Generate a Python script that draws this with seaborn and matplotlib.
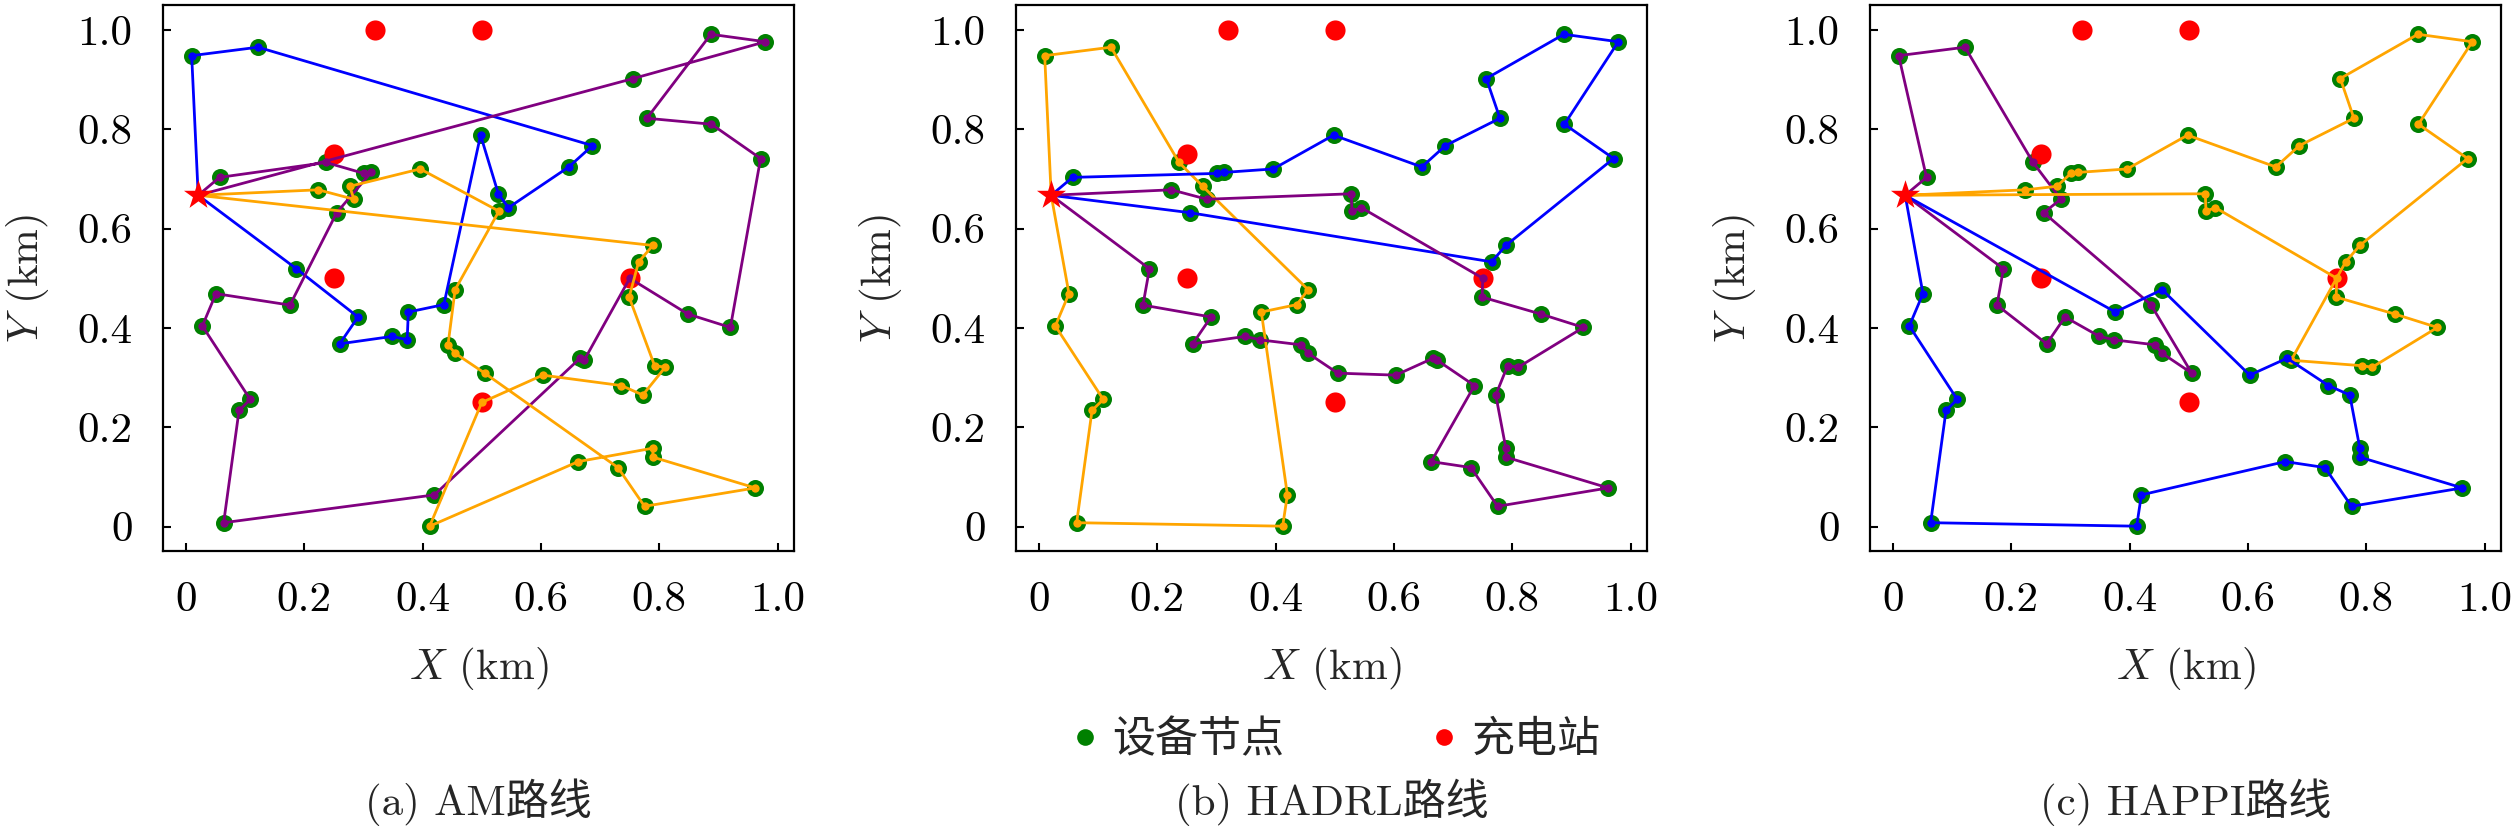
import matplotlib
matplotlib.use('Agg')
import matplotlib.pyplot as plt
import seaborn as sns
from matplotlib.lines import Line2D
from matplotlib.ticker import FuncFormatter

# 设备节点 (km)
node_ids = ['1', '2', '3', '4', '5', '6', '7', '8', '9', '10',
            '11', '12', '13', '14a', '14b', '15', '16', '17', '18', '19',
            '20', '21', '22', '23', '24', '25', '26', '27', '28', '29',
            '30', '31', '32', '33', '34', '35', '36', '37', '38', '39',
            '40', '41', '41b', '42', '43', '44a', '44b', '45', '46', '47',
            '48', '49', '50', '51', '52', '53', '54a', '54b', '55', '56']
node_x = [0.010, 0.122, 0.756, 0.887, 0.979, 0.779, 0.888, 0.971, 0.498, 0.687,
          0.647, 0.237, 0.057, 0.301, 0.313, 0.396, 0.224, 0.277, 0.284, 0.255,
          0.528, 0.545, 0.529, 0.789, 0.765, 0.749, 0.187, 0.051, 0.176, 0.028,
          0.291, 0.260, 0.349, 0.374, 0.376, 0.436, 0.455, 0.443, 0.455, 0.505,
          0.603, 0.673, 0.666, 0.848, 0.920, 0.792, 0.810, 0.736, 0.772, 0.109,
          0.090, 0.064, 0.420, 0.412, 0.663, 0.730, 0.789, 0.789, 0.775, 0.962]
node_y = [0.948, 0.965, 0.902, 0.991, 0.976, 0.822, 0.810, 0.741, 0.788, 0.767,
          0.724, 0.733, 0.703, 0.711, 0.713, 0.720, 0.678, 0.685, 0.659, 0.632,
          0.670, 0.642, 0.635, 0.566, 0.533, 0.462, 0.519, 0.469, 0.446, 0.404,
          0.422, 0.368, 0.383, 0.376, 0.432, 0.447, 0.477, 0.366, 0.349, 0.309,
          0.305, 0.335, 0.339, 0.428, 0.401, 0.324, 0.321, 0.284, 0.265, 0.256,
          0.234, 0.008, 0.064, 0.001, 0.131, 0.119, 0.158, 0.140, 0.041, 0.078]

# 充电站
station_ids = ['S1', 'S2', 'S3', 'S4', 'S5', 'S6']
station_x = [0.32, 0.50, 0.25, 0.25, 0.75, 0.50]
station_y = [1.00, 1.00, 0.75, 0.50, 0.50, 0.25]

# 基站
depot_x, depot_y = 0.021, 0.667

# 路线 (a) AM
am_blue = ['D', '1', '2', '10', '11', '21', '20', '9', '35', '34', '33', '32', '31', '30', '26', 'D']
am_purple = ['D', '13', '12', '14a', '14b', '19', '28', '27', '29', '47', '48', '49', '50', '41b', '41',
             'S5', '42', '43', '8', '7', '6', '4', '5', '3', 'D']
am_orange = ['D', '16', '18', '17', '15', '22', '36', '37', '38', '39', '53', '55', '56', '54b', '54a',
             '52', '51', 'S6', '40', '45', '46', '44b', '44a', '25', '24', '23', 'D']

# 路线 (b) HADRL
hadrl_orange = ['D', '1', '2', '12', '17', '36', '35', '34', '50', '51', '49', '48', '47', '29', '27', 'D']
hadrl_blue = ['D', '13', '14a', '14b', '15', '9', '11', '10', '6', '3', '4', '5', '7', '8', '23', '24', '19', 'D']
hadrl_purple = ['D', '16', '18', '20', '22', '21', 'S5', '25', '42', '43', '44b', '44a', '46', '54a', '54b',
                '56', '55', '53', '52', '45', '41', '41b', '40', '39', '38', '37', '33', '32', '31', '30',
                '28', '26', 'D']

# 路线 (c) HAPPI
happi_purple = ['D', '13', '1', '2', '12', '18', '19', '35', '39', '38', '37', '33', '32', '30', '31', '28', '26', 'D']
happi_orange = ['D', '20', '22', '21', 'S5', '25', '42', '43', '44b', '44a', '41', '24', '23', '8', '7', '5',
                '4', '3', '6', '10', '11', '9', '15', '14b', '14a', '17', '16', 'D']
happi_blue = ['D', '34', '36', '40', '41b', '45', '46', '54a', '54b', '56', '55', '53', '52', '50', '51',
              '49', '48', '47', '29', '27', 'D']

titles = ['(a) AM路线', '(b) HADRL路线', '(c) HAPPI路线']
panel_routes = [
    [(am_blue, 'blue'), (am_purple, 'purple'), (am_orange, 'orange')],
    [(hadrl_orange, 'orange'), (hadrl_blue, 'blue'), (hadrl_purple, 'purple')],
    [(happi_purple, 'purple'), (happi_orange, 'orange'), (happi_blue, 'blue')],
]

sns.set_theme(style='white')
plt.rcParams['font.family'] = ['cmr10', 'Noto Sans CJK SC']
plt.rcParams['mathtext.fontset'] = 'cm'
plt.rcParams['axes.unicode_minus'] = False

FS = 31

# 坐标查找表
coords = {'D': (depot_x, depot_y)}
for k, x, y in zip(node_ids, node_x, node_y):
    coords[k] = (x, y)
for k, x, y in zip(station_ids, station_x, station_y):
    coords[k] = (x, y)

fig = plt.figure(figsize=(25.2, 8.31), dpi=100)
lefts = [163 / 2520, 1016 / 2520, 1870 / 2520]
ax_w = 631 / 2520
ax_b = 1 - 551 / 831
ax_h = 546 / 831

tick_fmt = FuncFormatter(lambda v, p: '0' if abs(v) < 1e-9 else f'{v:.1f}')

for i, left in enumerate(lefts):
    ax = fig.add_axes([left, ax_b, ax_w, ax_h])

    sns.scatterplot(x=node_x, y=node_y, color='green', s=150, linewidth=0, ax=ax, zorder=2)
    sns.scatterplot(x=station_x, y=station_y, color='red', s=210, linewidth=0, ax=ax, zorder=2)

    for route, col in panel_routes[i]:
        rx = [coords[k][0] for k in route]
        ry = [coords[k][1] for k in route]
        sns.lineplot(x=rx, y=ry, sort=False, estimator=None, color=col, lw=2,
                     marker='o', markersize=6, markeredgewidth=0, ax=ax, zorder=3)

    sns.scatterplot(x=[depot_x], y=[depot_y], color='red', marker='*', s=22 ** 2,
                    linewidth=0, ax=ax, zorder=5)

    ax.set_xticks([0, 0.2, 0.4, 0.6, 0.8, 1.0])
    ax.set_yticks([0, 0.2, 0.4, 0.6, 0.8, 1.0])
    ax.xaxis.set_major_formatter(tick_fmt)
    ax.yaxis.set_major_formatter(tick_fmt)
    ax.tick_params(direction='in', length=6, width=1.5, colors='black',
                   labelsize=FS, pad=22, bottom=True, left=True)
    for sp in ax.spines.values():
        sp.set_color('black')
        sp.set_linewidth(1.6)

    ax.set_xlabel('$X$ (km)', fontsize=FS)
    ax.set_ylabel('$Y$ (km)', fontsize=FS)
    ax.xaxis.set_label_coords(0.5, -0.215)
    ax.xaxis.label.set_va('center')
    ax.yaxis.set_label_coords(-0.214, 0.5)
    ax.yaxis.label.set_va('center')

    fig.text(left + ax_w / 2, 1 - 802 / 831, titles[i], fontsize=FS, ha='center', va='center')

handles = [
    Line2D([], [], marker='o', linestyle='', markerfacecolor='green', markeredgewidth=0, markersize=12),
    Line2D([], [], marker='o', linestyle='', markerfacecolor='red', markeredgewidth=0, markersize=12),
]
fig.legend(handles, ['设备节点', '充电站'], loc='center', bbox_to_anchor=(1332 / 2520, 1 - 740 / 831),
           ncol=2, frameon=False, fontsize=FS, handlelength=1.0, handletextpad=0.15,
           columnspacing=3.2)

fig.savefig('out.png', dpi=100)
